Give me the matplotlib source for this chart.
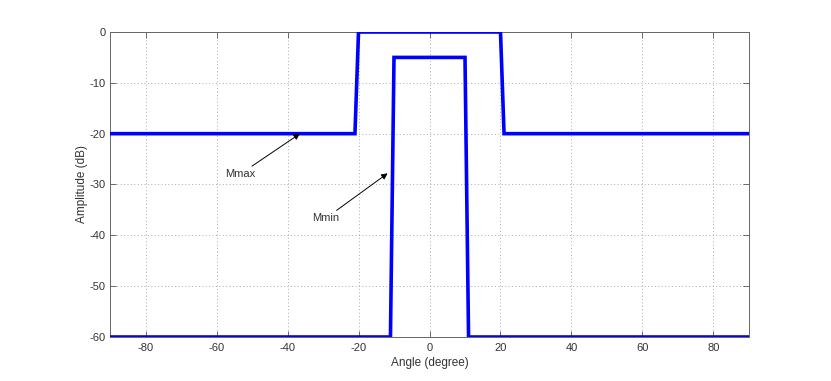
import matplotlib
matplotlib.use("Agg")
import matplotlib.pyplot as plt

# Data
mmax_x = [-90, -21, -20, 20, 21, 90]
mmax_y = [-20, -20, 0, 0, -20, -20]
mmin_x = [-90, -11, -10, 10, 11, 90]
mmin_y = [-60, -60, -5, -5, -60, -60]
xticks = [-80, -60, -40, -20, 0, 20, 40, 60, 80]
yticks = [-60, -50, -40, -30, -20, -10, 0]

plt.rcParams['font.family'] = ['Liberation Sans Narrow', 'Liberation Sans', 'DejaVu Sans']

fig = plt.figure(figsize=(8.31, 3.81), dpi=100)
ax = fig.add_axes([0.1324, 0.1155, 0.9013 - 0.1324, 0.916 - 0.1155])

ax.plot(mmax_x, mmax_y, color='#0000ff', lw=2.6, solid_joinstyle='miter', zorder=3)
ax.plot(mmin_x, mmin_y, color='#0000ff', lw=2.6, solid_joinstyle='miter', zorder=3)

ax.set_xlim(-90, 90)
ax.set_ylim(-60, 0)
ax.set_xticks(xticks)
ax.set_yticks(yticks)
ax.set_xticklabels([str(t) for t in xticks])
ax.set_yticklabels([str(t) for t in yticks])
ax.tick_params(direction='in', top=True, right=True, length=4, width=0.6,
               colors='#555555', labelsize=8, labelcolor='#333333', pad=4)
ax.tick_params(axis='y', pad=3)
ax.grid(True, linestyle=(0, (1, 2.5)), color='#aaaaaa', lw=0.7)
for s in ax.spines.values():
    s.set_color('#666666')
    s.set_linewidth(0.7)

ax.set_xlabel('Angle (degree)', fontsize=8.5, color='#333333', labelpad=3)
ax.set_ylabel('Amplitude (dB)', fontsize=8.5, color='#333333', labelpad=1.5)

ax.annotate('Mmax', xy=(-36.5, -20), xytext=(-57.5, -28.9), fontsize=8, color='#333333',
            va='bottom', ha='left',
            arrowprops=dict(arrowstyle='-|>', color='black', lw=0.7, mutation_scale=9,
                            shrinkA=0, shrinkB=0))
ax.annotate('Mmin', xy=(-11.8, -27.8), xytext=(-33, -37.6), fontsize=8, color='#333333',
            va='bottom', ha='left',
            arrowprops=dict(arrowstyle='-|>', color='black', lw=0.7, mutation_scale=9,
                            shrinkA=0, shrinkB=0))

fig.savefig('out.png', dpi=100, facecolor='white')
